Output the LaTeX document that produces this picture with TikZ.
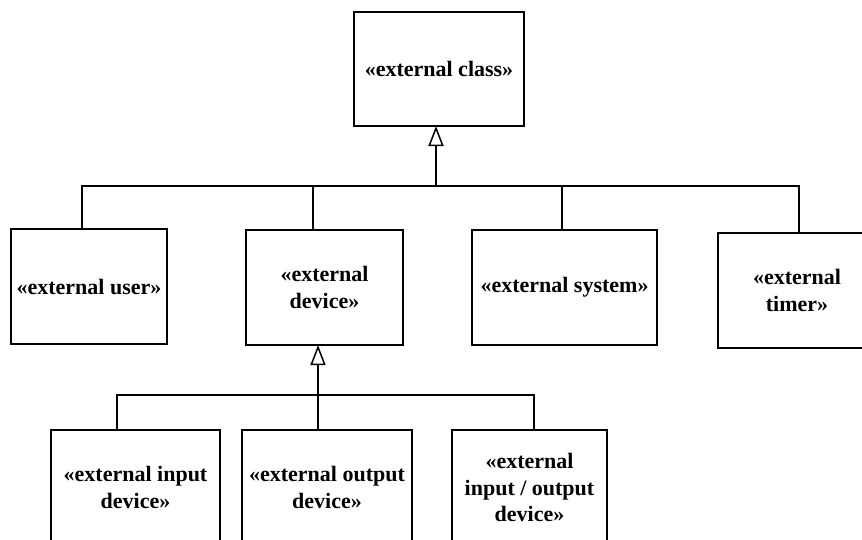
\documentclass[tikz,border=0pt]{standalone}
\usepackage{fontspec}
\setmainfont{Liberation Serif}
\usetikzlibrary{arrows.meta}

\begin{document}
\begin{tikzpicture}[x=1pt, y=-1pt, line width=1.5pt,
    umlbox/.style={draw, rectangle, inner sep=0pt, outer sep=0pt, align=center,
      minimum height=115pt, font=\bfseries\fontsize{22}{26.5}\selectfont},
    gen/.style={-{Triangle[open, width=15pt, length=20pt, line width=1.5pt]}}]
  \useasboundingbox (0,0) rectangle (862,539);
  \node[umlbox, minimum width=170pt, minimum height=114pt] (cls) at (439,69) {«external class»};
  \node[umlbox, minimum width=156pt] (usr) at (89,286.5) {«external user»};
  \node[umlbox, minimum width=157pt] (dev) at (324.5,287.5) {«external\\device»};
  \node[umlbox, minimum width=185pt] (sys) at (564.5,287.5) {«external system»};
  \node[umlbox, minimum width=158pt] (tmr) at (797,290.5) {«external\\timer»};
  \node[umlbox, minimum width=169pt] (inp) at (135.5,487.5) {«external input\\device»};
  \node[umlbox, minimum width=170pt] (out) at (327,487.5) {«external output\\device»};
  \node[umlbox, minimum width=155pt] (io)  at (529.5,487.5) {«external\\input / output\\device»};
  \coordinate (bus1) at (436,186);
  \coordinate (bus2) at (318,395);
  \draw[gen] (bus1) -- (cls.south -| bus1);
  \draw (bus1) -| ([xshift=-7]usr.north);
  \draw (bus1) -| ([xshift=-11.5]dev.north);
  \draw (bus1) -| ([xshift=-2.5]sys.north);
  \draw (bus1) -| ([xshift=2]tmr.north);
  \draw[gen] (bus2) -- (dev.south -| bus2);
  \draw (bus2) -| ([xshift=-18.5]inp.north);
  \draw (bus2) -| ([xshift=-9]out.north);
  \draw (bus2) -| ([xshift=4.5]io.north);
\end{tikzpicture}
\end{document}
